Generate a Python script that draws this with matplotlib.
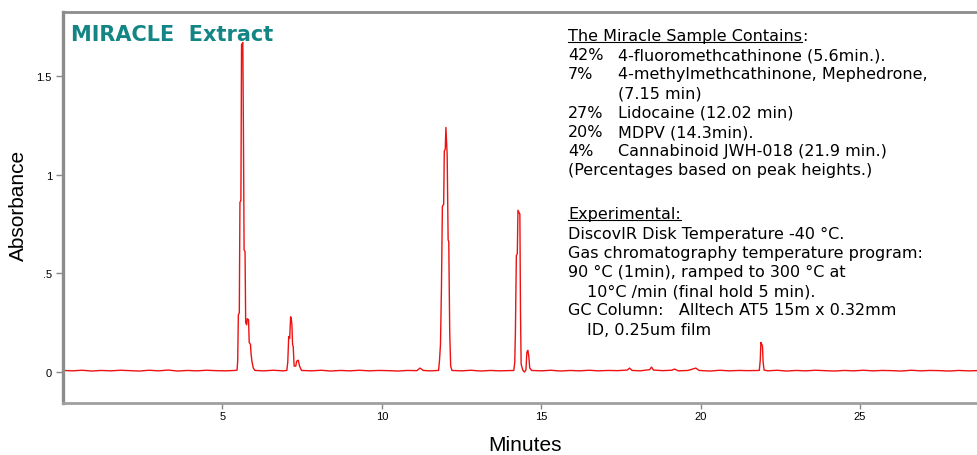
import matplotlib
matplotlib.use("Agg")
import matplotlib.pyplot as plt
from matplotlib.lines import Line2D

# chromatogram: retention time (min) and absorbance
minutes = [
    0.0, 0.3, 0.6, 0.9, 1.2, 1.5, 1.8, 2.1, 2.4, 2.7, 3.0, 3.3, 3.6, 3.9, 4.2, 4.5, 4.8, 5.1, 5.4,
    5.46, 5.48, 5.50, 5.53, 5.55, 5.58, 5.60, 5.64, 5.66, 5.68, 5.71, 5.73, 5.76, 5.78, 5.82,
    5.84, 5.88, 5.90, 5.93, 5.97, 6.02,
    6.3, 6.6, 6.9, 7.02,
    7.05, 7.08, 7.11, 7.14, 7.16, 7.18, 7.20, 7.22, 7.25, 7.30, 7.33, 7.38, 7.42, 7.48,
    7.8, 8.1, 8.4, 8.7, 9.0, 9.3, 9.6, 9.9, 10.2, 10.5, 10.8, 11.1, 11.2, 11.3, 11.5, 11.78,
    11.81, 11.84, 11.87, 11.90, 11.94, 11.96, 11.99, 12.01, 12.03, 12.05, 12.08, 12.10,
    12.13, 12.16, 12.2,
    12.5, 12.8, 13.1, 13.4, 13.7, 14.0, 14.14,
    14.17, 14.19, 14.22, 14.25, 14.27, 14.30, 14.33, 14.35, 14.37, 14.42, 14.47, 14.52,
    14.55, 14.58, 14.61, 14.64, 14.70,
    15.0, 15.3, 15.6, 15.9, 16.2, 16.5, 16.8, 17.1, 17.4, 17.7, 17.77, 17.85, 18.1, 18.4,
    18.46, 18.52, 18.8, 19.1, 19.18, 19.3, 19.6, 19.85, 19.95, 20.3, 20.6, 20.9, 21.2,
    21.5, 21.84,
    21.87, 21.89, 21.92, 21.94, 21.96, 21.99, 22.1,
    22.4, 22.7, 23.0, 23.3, 23.6, 23.9, 24.2, 24.5, 24.8, 25.1, 25.4, 25.7, 26.0, 26.3,
    26.6, 26.9, 27.2, 27.5, 27.8, 28.1, 28.4, 28.7,
]
absorbance = [
    0.008, 0.006, 0.009, 0.005, 0.008, 0.006, 0.009, 0.007, 0.005, 0.009, 0.006, 0.010,
    0.005, 0.008, 0.006, 0.009, 0.007, 0.006, 0.008,
    0.010, 0.060, 0.290, 0.300, 0.860, 0.870, 1.660, 1.670, 1.200, 0.620, 0.610, 0.250,
    0.240, 0.270, 0.265, 0.150, 0.140, 0.090, 0.050, 0.020, 0.008,
    0.006, 0.009, 0.006, 0.008,
    0.050, 0.180, 0.170, 0.280, 0.270, 0.240, 0.140, 0.130, 0.030, 0.030, 0.055, 0.060,
    0.030, 0.008,
    0.006, 0.009, 0.005, 0.008, 0.006, 0.009, 0.006, 0.008, 0.007, 0.005, 0.008, 0.007,
    0.020, 0.008, 0.006, 0.008,
    0.060, 0.140, 0.420, 0.840, 0.850, 1.120, 1.130, 1.240, 1.170, 1.100, 0.670, 0.660,
    0.200, 0.030, 0.008,
    0.006, 0.009, 0.005, 0.008, 0.006, 0.007, 0.008,
    0.050, 0.200, 0.590, 0.600, 0.820, 0.810, 0.800, 0.300, 0.040, 0.010, 0.000, 0.010,
    0.100, 0.110, 0.080, 0.020, 0.008,
    0.006, 0.009, 0.005, 0.008, 0.006, 0.009, 0.006, 0.008, 0.007, 0.010, 0.020, 0.008,
    0.006, 0.012, 0.025, 0.010, 0.007, 0.009, 0.015, 0.006, 0.008, 0.020, 0.008, 0.005,
    0.009, 0.006, 0.008, 0.007, 0.008,
    0.060, 0.150, 0.140, 0.130, 0.050, 0.010, 0.006,
    0.009, 0.005, 0.008, 0.006, 0.009, 0.007, 0.005, 0.008, 0.006, 0.009, 0.006, 0.008,
    0.007, 0.005, 0.009, 0.006, 0.008, 0.007, 0.005, 0.008, 0.006, 0.007,
]

x_ticks = [5, 10, 15, 20, 25]
y_ticks = [0, 0.5, 1, 1.5]
y_tick_labels = ["0", ".5", "1", "1.5"]

sample_pct = ["42%", "7%", "", "27%", "20%", "4%"]
sample_desc = [
    "4-fluoromethcathinone (5.6min.).",
    "4-methylmethcathinone, Mephedrone,",
    "(7.15 min)",
    "Lidocaine (12.02 min)",
    "MDPV (14.3min).",
    "Cannabinoid JWH-018 (21.9 min.)",
]
experimental = [
    ("DiscovIR Disk Temperature -40 \u00b0C.", 0),
    ("Gas chromatography temperature program:", 0),
    ("90 \u00b0C (1min), ramped to 300 \u00b0C at", 0),
    ("10\u00b0C /min (final hold 5 min).", 1),
    ("GC Column:   Alltech AT5 15m x 0.32mm", 0),
    ("ID, 0.25um film", 1),
]

W, H = 978, 456
fig = plt.figure(figsize=(W / 100, H / 100), dpi=100)
ax = fig.add_axes([63 / W, 1 - 404 / H, 1 - 63 / W, (404 - 13) / H])

ax.plot(minutes, absorbance, color="#ee1111", linewidth=1.0)
ax.set_xlim(0, 28.7)
ax.set_ylim(-0.157, 1.825)

ax.set_xticks(x_ticks)
ax.set_yticks(y_ticks)
ax.set_yticklabels(y_tick_labels)
ax.tick_params(axis="both", colors="#888888", labelcolor="black", labelsize=8, width=1)
ax.tick_params(axis="y", length=5, pad=3)
ax.tick_params(axis="x", length=4, pad=2)
for lab in ax.get_xticklabels() + ax.get_yticklabels():
    lab.set_family("Liberation Sans")

ax.spines["right"].set_visible(False)
ax.spines["left"].set_color("#8c8c8c")
ax.spines["left"].set_linewidth(2.4)
ax.spines["top"].set_color("#8c8c8c")
ax.spines["top"].set_linewidth(2.0)
ax.spines["bottom"].set_color("#a0a0a0")
ax.spines["bottom"].set_linewidth(2.0)

fig.text(18 / W, 1 - 205 / H, "Absorbance", rotation=90, ha="center", va="center",
         fontsize=15, family="Liberation Sans")
fig.text(525 / W, 1 - 446 / H, "Minutes", ha="center", va="center",
         fontsize=15, family="Liberation Sans")

fig.text(71 / W, 1 - 35 / H, "MIRACLE  Extract", ha="left", va="center",
         fontsize=15, fontweight="bold", color="#148585", family="DejaVu Sans")

fs = 11.5
x0 = 568 / W
x1 = 618 / W
x_ind = 587 / W
line_h = 19.2


def ypos(py):
    return 1 - py / H


def underline(t):
    fig.canvas.draw()
    bb = t.get_window_extent(fig.canvas.get_renderer())
    yb = (bb.y0 + 1.5) / H
    fig.add_artist(Line2D([bb.x0 / W, bb.x1 / W], [yb, yb], color="black", linewidth=0.8))
    return bb


head = fig.text(x0, ypos(36.5), "The Miracle Sample Contains", ha="left", va="center", fontsize=fs)
bb = underline(head)
fig.text(bb.x1 / W, ypos(36.5), ":", ha="left", va="center", fontsize=fs)

for i, (pct, desc) in enumerate(zip(sample_pct, sample_desc)):
    y = ypos(36.5 + line_h * (i + 1))
    if pct:
        fig.text(x0, y, pct, ha="left", va="center", fontsize=fs)
    fig.text(x1, y, desc, ha="left", va="center", fontsize=fs)
fig.text(x0, ypos(36.5 + line_h * 7), "(Percentages based on peak heights.)",
         ha="left", va="center", fontsize=fs)

exp_head = fig.text(x0, ypos(215), "Experimental:", ha="left", va="center", fontsize=fs)
underline(exp_head)
for i, (line, indent) in enumerate(experimental):
    fig.text(x_ind if indent else x0, ypos(215 + line_h * (i + 1)), line,
             ha="left", va="center", fontsize=fs)

fig.savefig("out.png", dpi=100)
